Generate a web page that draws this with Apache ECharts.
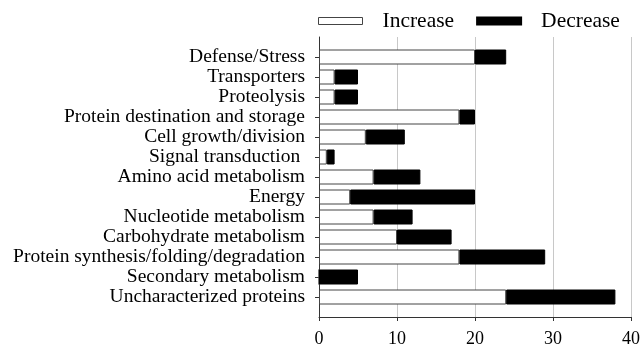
<!DOCTYPE html>
<html>
<head>
<meta charset="utf-8">
<script src="https://cdn.jsdelivr.net/npm/echarts@6/dist/echarts.min.js"></script>
<style>
html,body{margin:0;padding:0;background:#fff;}
#chart{width:643px;height:350px;}
</style>
</head>
<body>
<div id="chart"></div>
<script>
// categories, top to bottom
var categories = ['Defense/Stress','Transporters','Proteolysis','Protein destination and storage',
	'Cell growth/division','Signal transduction ','Amino acid metabolism','Energy',
	'Nucleotide metabolism','Carbohydrate metabolism','Protein synthesis/folding/degradation',
	'Secondary metabolism','Uncharacterized proteins'];
var increase = [20,2,2,18,6,1,7,4,7,10,18,0,24];
var decrease = [4,3,3,2,5,1,6,16,5,7,11,5,14];
var xTicks = [0,10,20,30,40];

// empty slot at both ends so the axis runs past the first and last bar
var cats = [''].concat(categories).concat(['']);
var inc = ['-'].concat(increase).concat(['-']);
var dec = ['-'].concat(decrease).concat(['-']);

var font = '"Liberation Serif","Times New Roman",serif';
var myChart = echarts.init(document.getElementById('chart'));
var option = {
	animation:false,
	legend:{
		left:318,
		top:10,
		padding:0,
		icon:'rect',
		itemWidth:44,
		itemHeight:7,
		itemGap:22,
		textStyle:{fontFamily:font,fontSize:21.5,color:'#000',padding:[0,0,0,15]},
		data:[
			{name:'Increase',itemStyle:{color:'#fff',borderColor:'#444',borderWidth:1}},
			{name:'Decrease',itemStyle:{color:'#000'}}
		]
	},
	grid:{left:319,right:12,top:37,bottom:33,containLabel:false},
	xAxis:{
		type:'value',
		min:xTicks[0],
		max:xTicks[xTicks.length-1],
		interval:10,
		axisLine:{show:true,lineStyle:{color:'#333'}},
		axisTick:{show:true,length:4,lineStyle:{color:'#333'}},
		axisLabel:{fontFamily:font,fontSize:18,color:'#000',margin:13},
		splitLine:{show:true,lineStyle:{color:'#c8c8c8'}}
	},
	yAxis:{
		type:'category',
		inverse:true,
		boundaryGap:false,
		data:cats,
		axisLine:{show:true,lineStyle:{color:'#333'}},
		axisTick:{show:true,length:4,lineStyle:{color:'#333'},
			interval:function(i,v){return v!=='';}},
		axisLabel:{fontFamily:font,fontSize:19.5,color:'#000',margin:14,interval:0},
		splitLine:{show:false}
	},
	series:[
		{name:'Increase',type:'bar',stack:'t',barWidth:15,data:inc,
			itemStyle:{color:'#fff',borderColor:'#444',borderWidth:1}},
		{name:'Decrease',type:'bar',stack:'t',barWidth:15,data:dec,
			itemStyle:{color:'#000',borderColor:'#000',borderWidth:1}}
	]
};
myChart.setOption(option);
</script>
</body>
</html>
